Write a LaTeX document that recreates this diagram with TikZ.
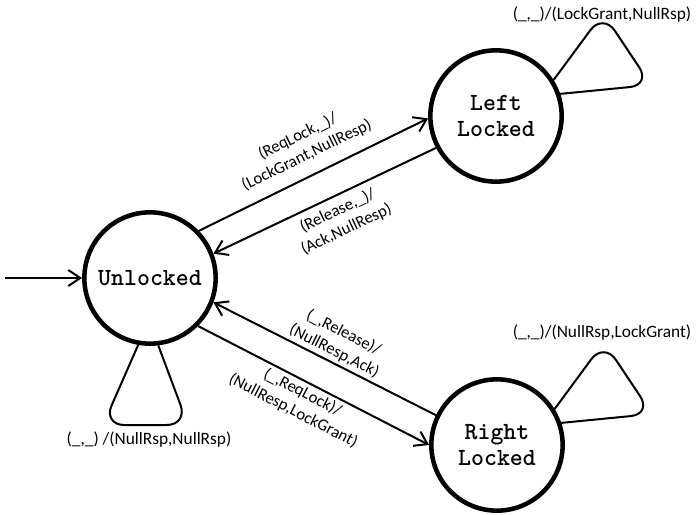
\documentclass[tikz,border=0pt]{standalone}
\usepackage{fontspec}
\setmainfont{Carlito}
\usetikzlibrary{arrows.meta}

\begin{document}
\begin{tikzpicture}[
    x=0.75pt, y=-0.75pt,
    state/.style={draw, circle, line width=3.4pt, minimum size=98.5pt, inner sep=0pt,
                  align=center, font=\ttfamily\bfseries\fontsize{18.5}{19.5}\selectfont},
    arr/.style={-{Straight Barb[length=9pt, width=12pt]}, line width=1.5pt},
    selfloop/.style={line width=1.5pt, rounded corners=16pt},
    lbl/.style={font=\fontsize{12.5}{15.5}\selectfont, align=center, inner sep=1pt},
    looplbl/.style={font=\fontsize{13}{16}\selectfont, inner sep=0pt},
  ]
    \useasboundingbox (0,0) rectangle (696,514);

    \node[state] (unl)   at (150,278) {Unlocked};
    \node[state] (left)  at (496,116) {Left\\Locked};
    \node[state] (right) at (497,445) {Right\\Locked};
    \coordinate (init) at (5,278);

    % start arrow
    \draw[arr] (init) -- (unl.west);

    % unlocked <-> left locked
    \draw[arr] (unl.44) -- (left.182)
      node[lbl, pos=0.51, sloped, above=8pt] {(ReqLock,\_)/\\(LockGrant,NullResp)};
    \draw[arr] (left.208) -- (unl.21)
      node[lbl, pos=0.47, sloped, below=3.4pt] {(Release,\_)/\\(Ack,NullResp)};

    % unlocked <-> right locked
    \draw[arr] (right.154) -- (unl.-21)
      node[lbl, pos=0.48, sloped, above=1.2pt] {(\_,Release)/\\(NullResp,Ack)};
    \draw[arr] (unl.-45) -- (right.180)
      node[lbl, pos=0.475, sloped, below=1pt] {(\_,ReqLock)/\\(NullResp,LockGrant)};

    % self loops
    \draw[selfloop] (unl.-100) -- ([shift={(-47,147)}]unl.center)
      -- ([shift={(38,147)}]unl.center) -- (unl.-83);
    \draw[selfloop] (left.32) -- ([shift={(107,-103)}]left.center)
      -- ([shift={(155,-31)}]left.center) -- (left.19);
    \draw[selfloop] (right.32) -- ([shift={(107,-103)}]right.center)
      -- ([shift={(155,-31)}]right.center) -- (right.19);

    \node[looplbl] (unllbl)   at (149,440) {(\_,\_) /(NullRsp,NullRsp)};
    \node[looplbl] (leftlbl)  at (602,15)  {(\_,\_)/(LockGrant,NullRsp)};
    \node[looplbl] (rightlbl) at (602,333) {(\_,\_)/(NullRsp,LockGrant)};
\end{tikzpicture}
\end{document}
